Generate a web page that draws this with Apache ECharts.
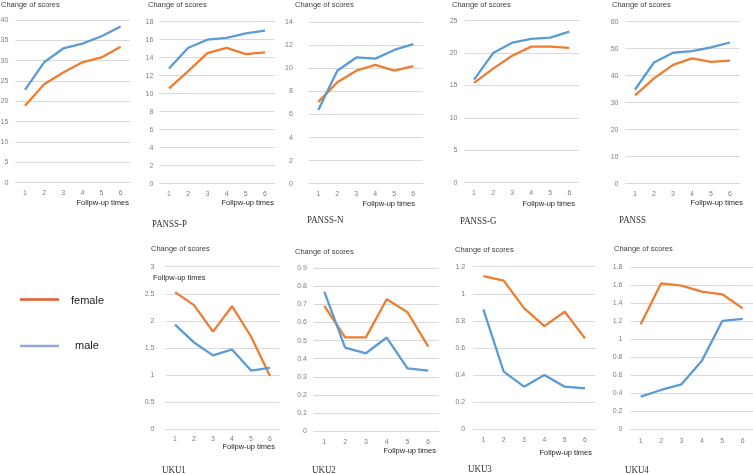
<!DOCTYPE html>
<html>
<head>
<meta charset="utf-8">
<script src="https://cdn.jsdelivr.net/npm/echarts@6/dist/echarts.min.js"></script>
<style>html,body{margin:0;padding:0;background:#fff}#c{width:753px;height:474px}</style>
</head>
<body>
<div id="c"></div>
<script>
// ---- data ----
const categories = ['1', '2', '3', '4', '5', '6'];
const panelNames = ['', 'PANSS-P', 'PANSS-N', 'PANSS-G', 'PANSS', 'UKU1', 'UKU2', 'UKU3', 'UKU4'];
const totalMale     = [22.8, 29.6, 33.0, 34.2, 36.0, 38.4];
const totalFemale   = [18.9, 24.2, 27.1, 29.6, 30.8, 33.4];
const panssPMale    = [12.8, 15.1, 16.0, 16.2, 16.7, 17.0];
const panssPFemale  = [10.6, 12.5, 14.5, 15.1, 14.4, 14.6];
const panssNMale    = [6.4, 9.8, 10.95, 10.85, 11.6, 12.1];
const panssNFemale  = [7.1, 8.8, 9.8, 10.3, 9.8, 10.2];
const panssGMale    = [15.9, 20.0, 21.6, 22.2, 22.4, 23.3];
const panssGFemale  = [15.4, 17.6, 19.6, 21.0, 21.0, 20.8];
const panssMale     = [34.9, 44.9, 48.5, 49.1, 50.5, 52.3];
const panssFemale   = [32.7, 39.0, 44.0, 46.4, 45.1, 45.6];
const uku1Male      = [1.93, 1.60, 1.36, 1.47, 1.08, 1.13];
const uku1Female    = [2.53, 2.29, 1.80, 2.27, 1.71, 0.98];
const uku2Male      = [0.771, 0.461, 0.43, 0.517, 0.347, 0.334];
const uku2Female    = [0.692, 0.518, 0.518, 0.729, 0.657, 0.467];
const uku3Male      = [0.885, 0.424, 0.313, 0.399, 0.313, 0.30];
const uku3Female    = [1.131, 1.097, 0.894, 0.761, 0.867, 0.670];
const uku4Male      = [0.363, 0.437, 0.50, 0.763, 1.204, 1.226];
const uku4Female    = [1.167, 1.622, 1.596, 1.53, 1.50, 1.344];
const yMax      = [40, 18, 14, 25, 60, 3, 0.9, 1.2, 1.8];
const yInterval = [5, 2, 2, 5, 10, 0.5, 0.1, 0.2, 0.2];
const maleSeries   = [totalMale, panssPMale, panssNMale, panssGMale, panssMale, uku1Male, uku2Male, uku3Male, uku4Male];
const femaleSeries = [totalFemale, panssPFemale, panssNFemale, panssGFemale, panssFemale, uku1Female, uku2Female, uku3Female, uku4Female];
const yTitle = 'Change of scores';
const xTitle = 'Follpw-up times';
const legendNames = ['female', 'male'];

// ---- layout ----
// [left, right, top, bottom, yLabelMargin, xLabelMargin]
const boxes = [
  [15.4, 130.2, 20.0, 182.7, 7, 6.5],
  [159.4, 274.6, 21.7, 183.7, 6, 6.5],
  [308.8, 422.8, 22.3, 183.7, 16, 6.5],
  [464.5, 578.9, 20.7, 182.7, 7, 6.5],
  [625.5, 739.5, 21.7, 183.7, 7, 6.5],
  [165.5, 279.5, 266.7, 429.0, 11, 6.5],
  [313.9, 438.7, 268.3, 431.0, 7, 7.5],
  [473.2, 595.2, 266.7, 429.0, 8, 7.5],
  [630.5, 752.9, 267.3, 429.3, 8, 8]
];
const titlePos = [[1,5],[148,5],[295,5],[452,5],[612,5],[151,249],[295,252],[455,250],[614,249]];
const xTitlePos = [[129,203],[274,203],[415,204],[575,204],[743,203],[275,447],[436,451],[592,453],null];
const namePos = [null,[152,224],[307,220],[460,221],[619,220],[162,470],[312,470],[468,469],[625,470]];

const ORANGE = '#ED7D31', BLUE = '#5B9BD5';
const grid = [], xAxis = [], yAxis = [], series = [], graphic = [];
boxes.forEach((b, i) => {
  grid.push({left: b[0], top: b[2], width: b[1] - b[0], height: b[3] - b[2], containLabel: false, outerBoundsMode: 'none'});
  xAxis.push({type: 'category', gridIndex: i, data: categories, boundaryGap: true,
    axisLine: {show: true, lineStyle: {color: '#d9d9d9', width: 1}}, axisTick: {show: false},
    axisLabel: {color: '#7f7f7f', fontSize: 7, margin: b[5], fontFamily: 'Liberation Sans'}});
  yAxis.push({type: 'value', gridIndex: i, min: 0, max: yMax[i], interval: yInterval[i],
    axisLine: {show: false}, axisTick: {show: false},
    splitLine: {lineStyle: {color: '#d9d9d9', width: 1}},
    axisLabel: {color: '#7f7f7f', fontSize: 7, margin: b[4], fontFamily: 'Liberation Sans',
      formatter: v => String(Math.round(v * 1000) / 1000)}});
  series.push({type: 'line', name: legendNames[0], xAxisIndex: i, yAxisIndex: i, data: femaleSeries[i],
    symbol: 'none', lineStyle: {color: ORANGE, width: 2.3}, itemStyle: {color: ORANGE}, animation: false});
  series.push({type: 'line', name: legendNames[1], xAxisIndex: i, yAxisIndex: i, data: maleSeries[i],
    symbol: 'none', lineStyle: {color: BLUE, width: 2.3}, itemStyle: {color: BLUE}, animation: false});
  const tp = titlePos[i];
  graphic.push({type: 'text', x: tp[0], y: tp[1], silent: true,
    style: {text: yTitle, fontSize: 7.5, fill: '#404040', fontFamily: 'Liberation Sans', verticalAlign: 'middle', align: 'left'}});
  if (xTitlePos[i]) {
    graphic.push({type: 'text', x: xTitlePos[i][0], y: xTitlePos[i][1], silent: true,
      style: {text: xTitle, fontSize: 7.5, fill: '#262626', fontFamily: 'Liberation Sans', verticalAlign: 'middle', align: 'right'}});
  }
  if (namePos[i]) {
    graphic.push({type: 'text', x: namePos[i][0], y: namePos[i][1], scaleX: 0.85, silent: true,
      style: {text: panelNames[i], fontSize: 10.5, fill: '#333', fontFamily: 'Liberation Serif', verticalAlign: 'middle', align: 'left'}});
  }
});
// stray axis title inside UKU1
graphic.push({type: 'text', x: 153, y: 278, silent: true,
  style: {text: xTitle, fontSize: 7.5, fill: '#262626', fontFamily: 'Liberation Sans', verticalAlign: 'middle', align: 'left'}});
// legend
graphic.push({type: 'line', shape: {x1: 20, y1: 299.5, x2: 59, y2: 299.5}, style: {stroke: '#E8592B', lineWidth: 2.5}, silent: true});
graphic.push({type: 'line', shape: {x1: 20, y1: 346, x2: 59, y2: 346}, style: {stroke: '#8FAADC', lineWidth: 2.5}, silent: true});
graphic.push({type: 'text', x: 71, y: 301, silent: true,
  style: {text: legendNames[0], fontSize: 11, fill: '#222', fontFamily: 'Liberation Sans', verticalAlign: 'middle', align: 'left'}});
graphic.push({type: 'text', x: 75, y: 346, silent: true,
  style: {text: legendNames[1], fontSize: 11, fill: '#222', fontFamily: 'Liberation Sans', verticalAlign: 'middle', align: 'left'}});

const chart = echarts.init(document.getElementById('c'), null, {renderer: 'canvas'});
chart.setOption({backgroundColor: '#fff', animation: false, grid, xAxis, yAxis, series, graphic});
</script>
</body>
</html>
